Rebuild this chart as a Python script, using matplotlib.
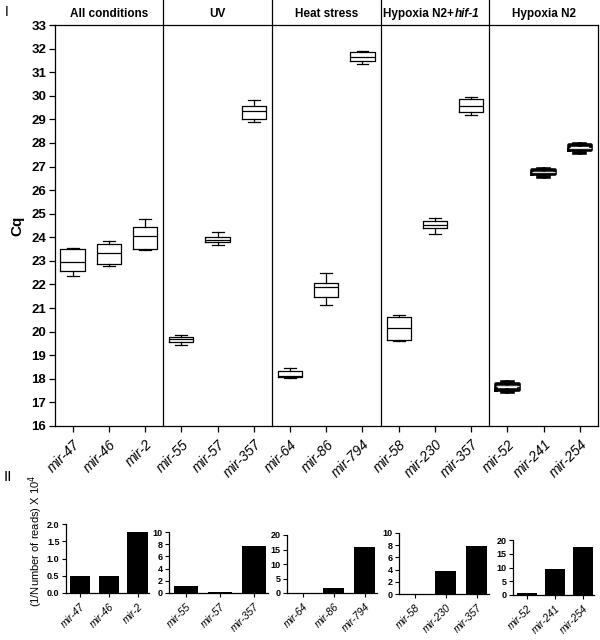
import matplotlib
matplotlib.use('Agg')
import matplotlib.pyplot as plt
import matplotlib.transforms as mtransforms

plt.rcParams['font.family'] = ['Liberation Sans', 'DejaVu Sans']

# Cq values per miRNA (box plot stats)
conditions = ['All conditions', 'UV', 'Heat stress', 'Hypoxia N2+', 'Hypoxia N2']
mirnas = ['mir-47', 'mir-46', 'mir-2',
          'mir-55', 'mir-57', 'mir-357',
          'mir-64', 'mir-86', 'mir-794',
          'mir-58', 'mir-230', 'mir-357',
          'mir-52', 'mir-241', 'mir-254']
cq_low = [22.35, 22.77, 23.47, 19.45, 23.69, 28.89, 18.03, 21.12, 31.33,
          19.62, 24.13, 29.20, 17.45, 26.57, 27.56]
cq_q1 = [22.58, 22.87, 23.52, 19.55, 23.78, 29.02, 18.08, 21.49, 31.46,
         19.63, 24.40, 29.30, 17.54, 26.67, 27.69]
cq_med = [22.96, 23.33, 24.06, 19.67, 23.88, 29.37, 18.14, 21.89, 31.66,
          20.17, 24.54, 29.58, 17.69, 26.76, 27.80]
cq_q3 = [23.52, 23.72, 24.43, 19.76, 24.02, 29.57, 18.34, 22.05, 31.86,
         20.60, 24.67, 29.85, 17.80, 26.84, 27.90]
cq_high = [23.55, 23.85, 24.77, 19.87, 24.23, 29.82, 18.46, 22.49, 31.91,
           20.70, 24.82, 29.96, 17.85, 26.88, 27.97]

# panel II: (1/number of reads) x 10^4
reads = [[0.49, 0.48, 1.78],
         [1.2, 0.1, 7.7],
         [0.1, 1.8, 15.8],
         [0.05, 3.7, 7.8],
         [0.6, 9.4, 17.6]]
reads_max = [2, 10, 20, 10, 20]
reads_step = [0.5, 2, 5, 2, 5]

fig = plt.figure(figsize=(6, 6.4), dpi=100)
W, H = 600.0, 640.0

def px_axes(left, top, right, bottom):
    return fig.add_axes([left / W, 1 - bottom / H, (right - left) / W, (bottom - top) / H])

# ---- panel I
ax = px_axes(54.5, 25, 598, 426)
stats = []
for i in range(len(mirnas)):
    stats.append({'whislo': cq_low[i], 'q1': cq_q1[i], 'med': cq_med[i],
                  'q3': cq_q3[i], 'whishi': cq_high[i], 'label': mirnas[i]})

thin = dict(color='black', linewidth=0.9)
ax.bxp(stats[:12], positions=range(12), widths=0.67, capwidths=0.33,
       showfliers=False, boxprops=thin, whiskerprops=thin, capprops=thin,
       medianprops=thin)
thick = dict(color='black', linewidth=2.6)
ax.bxp(stats[12:], positions=range(12, 15), widths=0.62, capwidths=0.3,
       showfliers=False, boxprops=thick, whiskerprops=thick, capprops=thick,
       medianprops=dict(color='0.85', linewidth=0.9))

ax.set_xlim(-0.5, 14.5)
ax.set_ylim(16, 33)
ax.set_yticks(range(16, 34))
ax.set_yticklabels([str(v) for v in range(16, 34)], fontsize=9.5, fontweight='bold')
ax.set_xticks(range(15))
ax.set_xticklabels(mirnas, rotation=45, ha='right', rotation_mode='anchor',
                   fontsize=10, fontstyle='italic')
ax.tick_params(direction='out', length=4, width=0.9, pad=2)
ax.tick_params(axis='x', pad=4)
for s in ax.spines.values():
    s.set_linewidth(0.9)
ax.set_ylabel('Cq', fontsize=11, fontweight='bold', labelpad=5)

for k in range(1, 5):
    ax.axvline(3 * k - 0.5, ymin=0, ymax=1 + 25 / 401, color='black',
               linewidth=0.9, clip_on=False)

trans = mtransforms.blended_transform_factory(ax.transData, ax.transAxes)
for k, name in enumerate(conditions):
    if k == 3:
        t = ax.text(3 * k - 0.42, 1.013, name, transform=trans, ha='left',
                    va='bottom', fontsize=8.5, fontweight='bold')
        ax.annotate('hif-1', xy=(1, 0), xycoords=t, ha='left', va='bottom',
                    fontsize=8.5, fontweight='bold', fontstyle='italic')
    else:
        ax.text(3 * k + 1, 1.013, name, transform=trans, ha='center',
                va='bottom', fontsize=8.5, fontweight='bold')

fig.text(5 / W, 1 - 12 / H, 'I', fontsize=10, va='center', ha='left')
fig.text(4 / W, 1 - 477 / H, 'II', fontsize=11, va='center', ha='left')

# ---- panel II
boxes = [(65.7, 524, 149, 593), (169, 532, 268, 593), (287, 535, 377, 593),
         (399, 533, 489, 594), (513, 540, 594, 595)]
for k in range(5):
    l, t_, r, b = boxes[k]
    bax = px_axes(l, t_, r, b)
    names = mirnas[3 * k:3 * k + 3]
    bax.bar(range(3), reads[k], width=0.7, color='black')
    bax.set_xlim(-0.5, 2.4)
    bax.set_ylim(0, reads_max[k])
    ticks = []
    v = 0
    while v <= reads_max[k] + 1e-9:
        ticks.append(v)
        v += reads_step[k]
    bax.set_yticks(ticks)
    if k == 0:
        bax.set_yticklabels(['%.1f' % v for v in ticks], fontsize=6.5, fontweight='bold')
    else:
        bax.set_yticklabels(['%d' % v for v in ticks], fontsize=6.5, fontweight='bold')
    bax.set_xticks(range(3))
    bax.set_xticklabels(names, rotation=45, ha='right', rotation_mode='anchor',
                        fontsize=7.5, fontstyle='italic')
    bax.spines['top'].set_visible(False)
    bax.spines['right'].set_visible(False)
    for s in ['left', 'bottom']:
        bax.spines[s].set_linewidth(0.9)
    bax.tick_params(direction='out', length=3, width=0.8, pad=1.5)
    bax.tick_params(axis='x', pad=3)

fig.text(36 / W, 1 - 541 / H, '(1/Number of reads) X 10$^{4}$', rotation=90,
         fontsize=8, ha='center', va='center')

fig.savefig('out.png', dpi=100)
